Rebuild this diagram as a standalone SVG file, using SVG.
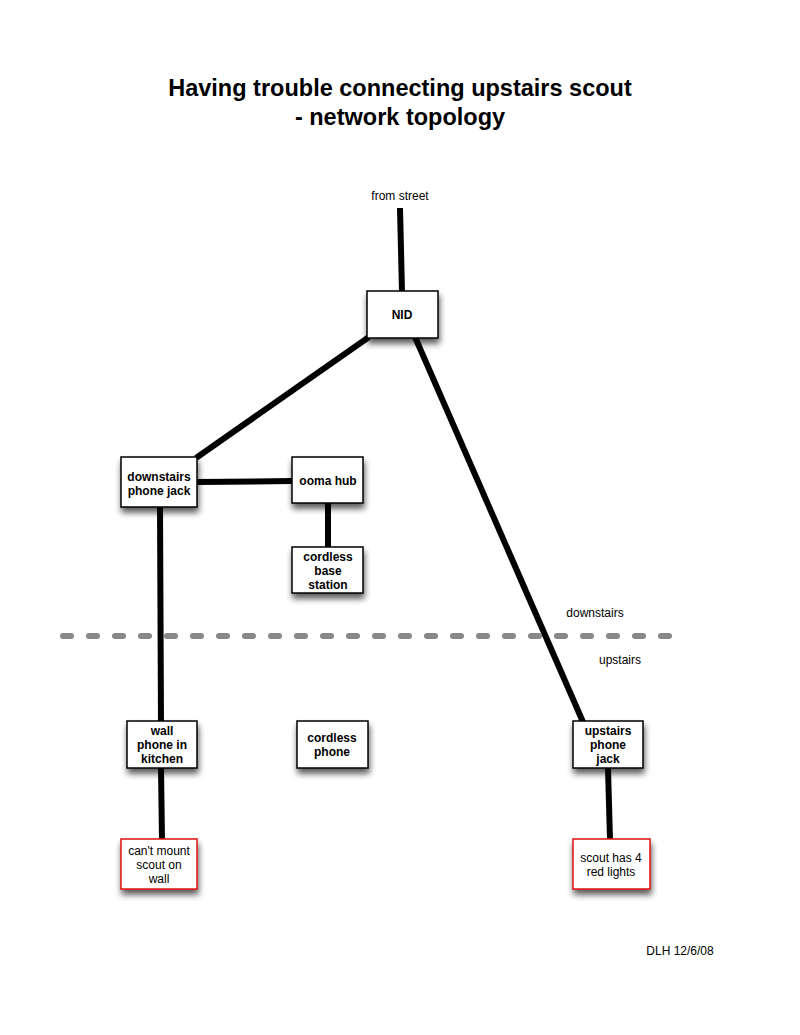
<svg xmlns="http://www.w3.org/2000/svg" width="800" height="1035" viewBox="0 0 800 1035">
<defs>
<filter id="sh" x="-30%" y="-30%" width="160%" height="180%">
<feGaussianBlur in="SourceAlpha" stdDeviation="3"/>
<feOffset dx="1" dy="5" result="b"/>
<feComponentTransfer><feFuncA type="linear" slope="0.65"/></feComponentTransfer>
<feMerge><feMergeNode/><feMergeNode in="SourceGraphic"/></feMerge>
</filter>
</defs>
<style>
.box{fill:#fff;stroke:#000;stroke-width:1.5;filter:url(#sh)}
.red{fill:#fff;stroke:#e01010;stroke-width:1.5;filter:url(#sh)}
.b{font-family:"Liberation Sans",Arial,sans-serif;font-weight:bold;font-size:12px;text-anchor:middle}
.n{font-family:"Liberation Sans",Arial,sans-serif;font-size:12px;text-anchor:middle}
.c{stroke:#000;stroke-width:6;fill:none}
.t{font-family:"Liberation Sans",Arial,sans-serif;font-weight:bold;font-size:23.5px;text-anchor:middle}
</style>
<rect width="800" height="1035" fill="#fff"/>
<text class="t" x="400" y="96">Having trouble connecting upstairs scout</text>
<text class="t" x="400" y="125">- network topology</text>
<g id="connectors">
<line class="c" x1="400" y1="208" x2="402" y2="292"/>
<line class="c" x1="369" y1="337" x2="196" y2="458"/>
<line class="c" x1="415" y1="337" x2="583" y2="722"/>
<line class="c" x1="197" y1="482" x2="292" y2="481"/>
<line class="c" x1="328" y1="503" x2="328" y2="547"/>
<line class="c" x1="160" y1="507" x2="161" y2="722"/>
<line class="c" x1="161" y1="768" x2="162" y2="840"/>
<line class="c" x1="608" y1="768" x2="610" y2="840"/>
</g>
<line x1="63" y1="636" x2="670" y2="636" stroke="#888" stroke-width="6" stroke-linecap="round" stroke-dasharray="8 18"/>
<text class="n" x="400" y="200">from street</text>
<text class="n" x="595" y="617">downstairs</text>
<text class="n" x="620" y="664">upstairs</text>
<g id="nid"><rect class="box" x="367" y="291" width="71" height="47"/><text class="b" x="402" y="319">NID</text></g>
<g id="downstairs-jack"><rect class="box" x="121" y="457" width="76" height="50"/><text class="b" x="159" y="481">downstairs</text><text class="b" x="159" y="495">phone jack</text></g>
<g id="ooma-hub"><rect class="box" x="292" y="457" width="71" height="46"/><text class="b" x="328" y="485">ooma hub</text></g>
<g id="cordless-base"><rect class="box" x="292" y="547" width="71" height="46"/><text class="b" x="328" y="561">cordless</text><text class="b" x="328" y="575">base</text><text class="b" x="328" y="589">station</text></g>
<g id="wall-phone"><rect class="box" x="127" y="721" width="70" height="47"/><text class="b" x="162" y="735">wall</text><text class="b" x="162" y="749">phone in</text><text class="b" x="162" y="763">kitchen</text></g>
<g id="cordless-phone"><rect class="box" x="297" y="721" width="71" height="47"/><text class="b" x="332" y="742">cordless</text><text class="b" x="332" y="756">phone</text></g>
<g id="upstairs-jack"><rect class="box" x="573" y="721" width="70" height="47"/><text class="b" x="608" y="735">upstairs</text><text class="b" x="608" y="749">phone</text><text class="b" x="608" y="763">jack</text></g>
<g id="cant-mount"><rect class="red" x="121" y="839" width="76" height="50"/><text class="n" x="159" y="855">can't mount</text><text class="n" x="159" y="869">scout on</text><text class="n" x="159" y="883">wall</text></g>
<g id="scout-lights"><rect class="red" x="573" y="839" width="77" height="50"/><text class="n" x="611" y="862">scout has 4</text><text class="n" x="611" y="876">red lights</text></g>
<text class="n" x="680" y="955">DLH 12/6/08</text>
</svg>
